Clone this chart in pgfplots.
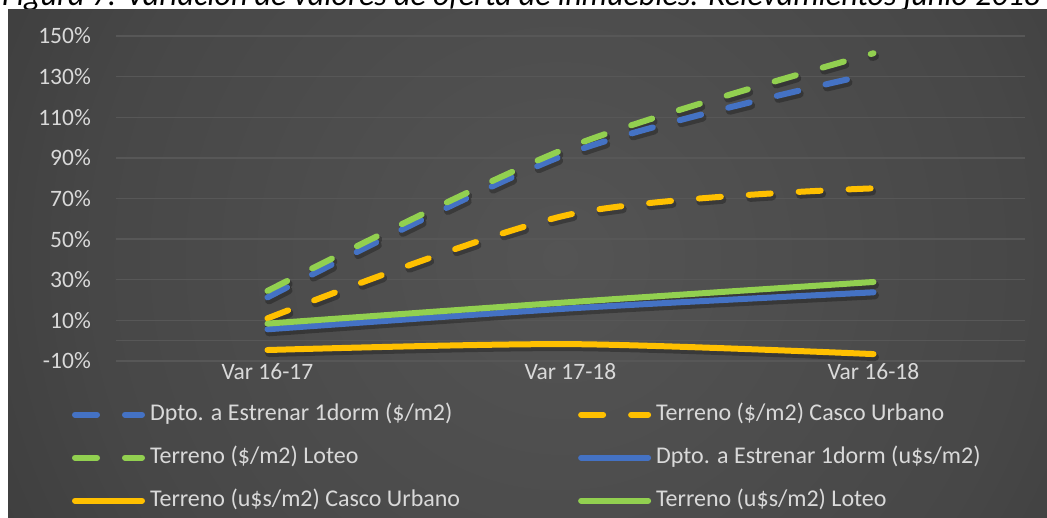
\documentclass[border=0pt]{standalone}
\usepackage{fontspec}
\setmainfont{Carlito}
\usepackage{pgfplots}
\pgfplotsset{compat=1.18}
\definecolor{cblue}{HTML}{4472C4}
\definecolor{cyel}{HTML}{FFC000}
\definecolor{cgreen}{HTML}{92D050}
\definecolor{txt}{HTML}{D9D9D9}
\definecolor{bgA}{HTML}{545454}
\definecolor{bgB}{HTML}{474747}
\definecolor{bgC}{HTML}{282828}
\definecolor{bgD}{HTML}{1F1F1F}
\definecolor{gridc}{HTML}{575757}
\pgfdeclareradialshading{bgshade}{\pgfpoint{0bp}{0bp}}{color(0bp)=(bgA); color(20bp)=(bgB); color(45bp)=(bgC); color(50bp)=(bgD)}
\newcommand{\fs}{\fontsize{23.5}{28}\selectfont}
\newcommand{\fl}{\fontsize{24}{29}\selectfont}
\pgfplotsset{
  shadow/.style={draw=black, opacity=0.28, line width=8pt, line cap=round, forget plot, smooth, tension=0.5, transform canvas={xshift=1.5pt, yshift=-3pt}},
  ser/.style={line width=6pt, line cap=round, smooth, tension=0.5},
  dsh/.style={dash pattern=on 22pt off 28pt},
}
\begin{document}
\begin{tikzpicture}[x=1pt,y=1pt]
\useasboundingbox (0,0) rectangle (1047,518);
\fill[white] (0,0) rectangle (1047,518);
\node[anchor=base west, inner sep=0pt, text=black] at (2,512.5) {\resizebox{1038pt}{!}{\itshape Figura 7: Variación de valores de oferta de inmuebles. Relevamientos junio 2018}};
\begin{scope}
\clip (8,0) rectangle (1047,508);
\shade[shading=bgshade] (560-580,260-580) rectangle (560+580,260+580);
\end{scope}
\begin{axis}[
  at={(116pt,157pt)}, anchor=south west, scale only axis,
  width=909pt, height=325pt,
  xmin=-0.5, xmax=2.5, ymin=-10, ymax=150,
  axis line style={draw=none},
  xtick={0,1,2}, xticklabels={Var 16-17, Var 17-18, Var 16-18},
  ytick={-10,10,30,50,70,90,110,130,150},
  yticklabels={-10\%,10\%,30\%,50\%,70\%,90\%,110\%,130\%,150\%},
  major tick length=0pt,
  ymajorgrids, grid style={line width=1.4pt, color=gridc},
  extra y ticks={0}, extra y tick labels={}, extra y tick style={grid=major},
  tick label style={font=\fs, text=txt},
  yticklabel style={inner sep=0pt, anchor=east, xshift=-25pt},
  xticklabel style={inner sep=0pt, anchor=north, yshift=-2pt},
  clip=false,
  legend columns=2,
  legend cell align=left,
  legend image code/.code={\draw[#1, line cap=round] (0pt,0pt) -- (67pt,0pt);},
  legend style={draw=none, fill=none, font=\fl, text=txt,
    at={(axis description cs:-0.0484,-0.1299)}, anchor=north west,
    inner sep=0pt, outer sep=0pt, row sep=20pt,
    nodes={inner sep=0pt, text height=17pt, text depth=6pt},
    /tikz/every odd column/.append style={column sep=5pt},
    /tikz/every even column/.append style={column sep=118pt}},
]
% shadows
\addplot[shadow, dsh] coordinates {(0,21.3) (1,92.5) (2,131.5)};
\addplot[shadow, dsh] coordinates {(0,11) (1,62.2) (2,75)};
\addplot[shadow, dsh] coordinates {(0,24.5) (1,95.5) (2,141.5)};
\addplot[shadow] coordinates {(0,5.6) (1,15.9) (2,23.8)};
\addplot[shadow] coordinates {(0,-4.6) (1,-1.7) (2,-6.6)};
\addplot[shadow] coordinates {(0,8.4) (1,19) (2,28.9)};
% series
\addplot[ser, dsh, cblue] coordinates {(0,21.3) (1,92.5) (2,131.5)};
\addlegendentry{Dpto. a Estrenar 1dorm (\$/m2)}
\addplot[ser, dsh, cyel] coordinates {(0,11) (1,62.2) (2,75)};
\addlegendentry{Terreno (\$/m2) Casco Urbano}
\addplot[ser, dsh, cgreen] coordinates {(0,24.5) (1,95.5) (2,141.5)};
\addlegendentry{Terreno (\$/m2) Loteo}
\addplot[ser, cblue] coordinates {(0,5.6) (1,15.9) (2,23.8)};
\addlegendentry{Dpto. a Estrenar 1dorm (u\$s/m2)}
\addplot[ser, cyel] coordinates {(0,-4.6) (1,-1.7) (2,-6.6)};
\addlegendentry{Terreno (u\$s/m2) Casco Urbano}
\addplot[ser, cgreen] coordinates {(0,8.4) (1,19) (2,28.9)};
\addlegendentry{Terreno (u\$s/m2) Loteo}
\end{axis}
\end{tikzpicture}
\end{document}
